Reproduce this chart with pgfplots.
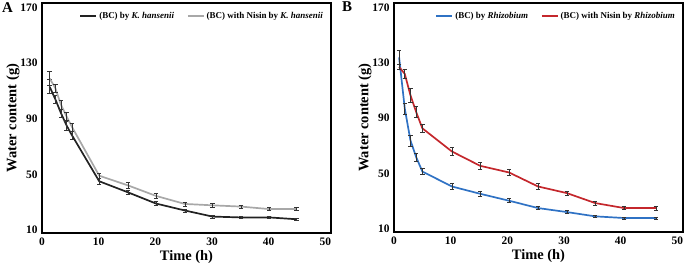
\documentclass[border=0pt]{standalone}
\usepackage{pgfplots}
\pgfplotsset{compat=1.18}
\usepackage{fontspec}
\setmainfont{Liberation Serif}
\definecolor{kblack}{HTML}{222222}
\definecolor{kgrey}{HTML}{A8A8A8}
\definecolor{rblue}{HTML}{2F72C4}
\definecolor{rred}{HTML}{C4272C}
\definecolor{ebar}{HTML}{333333}
\pgfplotsset{
  panel/.style={
    scale only axis, width=289bp,
    xmin=0, xmax=51, ymin=7.8, ymax=173.2,
    xtick={0,10,20,30,40,50}, ytick={10,50,90,130,170},
    major tick length=0pt,
    axis line style={line width=1.4pt, black},
    /pgf/number format/assume math mode=true,
    tick label style={font=\bfseries\fontsize{11.5}{11.5}\selectfont},
    xticklabel style={yshift=-1bp},
    yticklabel style={xshift=-1bp},
    xlabel={\bfseries\fontsize{14.5}{14.5}\selectfont Time (h)},
    ylabel={\bfseries\fontsize{14.5}{14.5}\selectfont Water content (g)},
    xlabel style={yshift=2bp},
    ylabel style={yshift=-6bp},
    legend columns=2,
    legend style={draw=none, fill=none, font=\bfseries\fontsize{9}{9.5}\selectfont,
      anchor=north east, at={(rel axis cs:1,1)}, xshift=-3bp, yshift=-5bp,
      /tikz/every even column/.append style={column sep=11bp}},
    legend image code/.code={\draw[#1, line width=1.7pt] (0bp,0bp) -- (16bp,0bp);},
    clip=false,
  },
  ser/.style={line width=1.7pt, mark=none, #1,
    error bars/.cd, y dir=both, y explicit,
    error bar style={line width=0.6pt, ebar},
    error mark options={rotate=90, mark size=2.2bp, line width=0.6pt, ebar}},
}
\begin{document}
\begin{tikzpicture}
\useasboundingbox (0,0) rectangle (685bp,272bp);
\begin{axis}[panel, height=230bp, at={(42bp,39bp)}, anchor=south west]
\addplot[ser=kblack] coordinates {
(1.35,113) +- (0,5) (2.35,104) +- (0,3) (3.35,94) +- (0,3) (4.35,85) +- (0,3)
(5.3,78) +- (0,3) (10.1,45) +- (0,2) (15.2,37) +- (0,1.5) (20.1,29) +- (0,1.5)
(25.2,24) +- (0,1) (30.1,19.6) +- (0,1) (35.1,19) +- (0,0.8) (40.1,19) +- (0,0.8)
(44.9,17.7) +- (0,0.8)};
\addlegendentry{(BC) by \textit{K. hansenii}}
\addplot[ser=kgrey] coordinates {
(1.35,119) +- (0,5) (2.35,112) +- (0,3) (3.35,100) +- (0,3.5) (4.35,91.5) +- (0,3)
(5.3,84) +- (0,3) (10.1,49) +- (0,2) (15.2,42) +- (0,2) (20.1,34.5) +- (0,1.5)
(25.2,28.7) +- (0,1.5) (30.1,27.7) +- (0,1.2) (35.1,26.8) +- (0,1.2) (40.1,25) +- (0,1.2)
(44.9,25) +- (0,1.2)};
\addlegendentry{(BC) with Nisin by \textit{K. hansenii}}
\end{axis}
\begin{axis}[panel, height=229bp, at={(394bp,40bp)}, anchor=south west]
\addplot[ser=rblue] coordinates {
(0.9,134) +- (0,5) (1.9,97) +- (0,4) (2.9,74) +- (0,4) (3.9,62) +- (0,3)
(5.0,51.5) +- (0,2) (10.2,40.7) +- (0,2) (15.2,35.4) +- (0,1.5) (20.3,30.4) +- (0,1.5)
(25.4,25.1) +- (0,1) (30.5,22.2) +- (0,1) (35.5,19.1) +- (0,1) (40.6,17.9) +- (0,0.7)
(46.2,17.9) +- (0,0.7)};
\addlegendentry{(BC) by \textit{Rhizobium}}
\addplot[ser=rred] coordinates {
(0.9,127) +- (0,2) (1.9,122) +- (0,3) (2.9,106.6) +- (0,5) (3.9,94.6) +- (0,4)
(5.0,82.7) +- (0,3) (10.2,66) +- (0,3) (15.2,55.6) +- (0,2.5) (20.3,50.8) +- (0,2)
(25.4,40.7) +- (0,2) (30.5,35.9) +- (0,1.5) (35.5,28.7) +- (0,1.3) (40.6,25.1) +- (0,1.2)
(46.2,25.1) +- (0,1.5)};
\addlegendentry{(BC) with Nisin by \textit{Rhizobium}}
\end{axis}
\node[font=\bfseries\fontsize{15}{15}\selectfont, anchor=north west, inner sep=0pt] at (2bp,270bp) {A};
\node[font=\bfseries\fontsize{15}{15}\selectfont, anchor=north west, inner sep=0pt] at (342bp,270bp) {B};
\end{tikzpicture}
\end{document}
